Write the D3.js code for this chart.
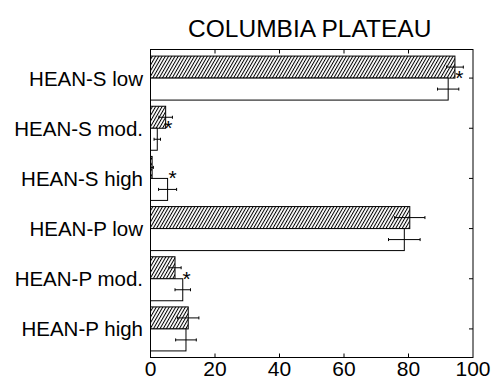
<!DOCTYPE html>
<html>
<head>
<meta charset="utf-8">
<script src="https://cdn.jsdelivr.net/npm/d3@7"></script>
<style>
  body { margin: 0; background: #fff; }
  text { font-family: "Liberation Sans", Arial, sans-serif; fill: #000; }
</style>
</head>
<body>
<div id="chart"></div>
<script>
// data
const categories = ["HEAN-S low", "HEAN-S mod.", "HEAN-S high", "HEAN-P low", "HEAN-P mod.", "HEAN-P high"];
const hatched    = [94.4, 4.7, 0.5, 80.4, 7.6, 11.7];
const hatchedErr = [2.6, 2.1, 0.4, 4.7, 1.9, 3.3];
const open       = [92.3, 2.1, 5.3, 78.7, 10.0, 11.0];
const openErr    = [3.3, 1.0, 2.8, 4.9, 2.4, 3.2];
const starred    = [true, true, true, false, true, false];
const xTicks     = [0, 20, 40, 60, 80, 100];

const W = 492, H = 381;
const plotL = 150.5, plotR = 473, plotT = 49.5, plotB = 357.5;

const svg = d3.select("#chart").append("svg")
  .attr("width", W).attr("height", H);

// hatch pattern
svg.append("defs").append("pattern")
  .attr("id", "hatch")
  .attr("patternUnits", "userSpaceOnUse")
  .attr("width", 2.8).attr("height", 6)
  .attr("patternTransform", "rotate(30)")
  .append("line")
  .attr("x1", 0.5).attr("y1", 0).attr("x2", 0.5).attr("y2", 6)
  .attr("stroke", "#000").attr("stroke-width", 1);

const x = d3.scaleLinear().domain([0, 100]).range([plotL, plotR]);
const y = d3.scaleBand().domain(categories).range([53, 354]);
const barH = 22;

// title
svg.append("text")
  .attr("x", (plotL + plotR) / 2 - 2).attr("y", 37)
  .attr("text-anchor", "middle")
  .style("font-size", "24.5px")
  .text("COLUMBIA PLATEAU");

const rows = categories.map((c, i) => ({
  c, h: hatched[i], he: hatchedErr[i], o: open[i], oe: openErr[i], star: starred[i]
}));
const mid = d => y(d.c) + y.bandwidth() / 2;

// bars
svg.selectAll(".hbar").data(rows).join("rect")
  .attr("x", x(0)).attr("y", d => mid(d) - barH)
  .attr("width", d => x(d.h) - x(0)).attr("height", barH)
  .attr("fill", "url(#hatch)").attr("stroke", "#000").attr("stroke-width", 1);

svg.selectAll(".obar").data(rows).join("rect")
  .attr("x", x(0)).attr("y", d => mid(d))
  .attr("width", d => x(d.o) - x(0)).attr("height", barH)
  .attr("fill", "#fff").attr("stroke", "#000").attr("stroke-width", 1);

// error bars
function errBars(key, errKey, off) {
  const g = svg.append("g").attr("stroke", "#000").attr("stroke-width", 1);
  rows.forEach(d => {
    const cy = mid(d) + off;
    const lo = x(d[key] - d[errKey]), hi = x(d[key] + d[errKey]);
    g.append("line").attr("x1", lo).attr("x2", hi).attr("y1", cy).attr("y2", cy);
    g.append("line").attr("x1", lo).attr("x2", lo).attr("y1", cy - 1.5).attr("y2", cy + 1.5);
    g.append("line").attr("x1", hi).attr("x2", hi).attr("y1", cy - 1.5).attr("y2", cy + 1.5);
  });
}
errBars("h", "he", -barH / 2);
errBars("o", "oe", barH / 2);

// asterisks
svg.selectAll(".star").data(rows.filter(d => d.star)).join("text")
  .attr("x", d => x(Math.max(d.h + d.he, d.o + d.oe)) - 4)
  .attr("y", d => mid(d) + 7)
  .attr("text-anchor", "middle")
  .style("font-size", "21px")
  .text("*");

// frame
svg.append("rect")
  .attr("x", plotL).attr("y", plotT)
  .attr("width", plotR - plotL).attr("height", plotB - plotT)
  .attr("fill", "none").attr("stroke", "#000").attr("stroke-width", 1);

// ticks inside the frame
const tk = svg.append("g").attr("stroke", "#000").attr("stroke-width", 1);
xTicks.slice(1, -1).forEach(t => {
  tk.append("line").attr("x1", x(t)).attr("x2", x(t)).attr("y1", plotB).attr("y2", plotB - 4);
  tk.append("line").attr("x1", x(t)).attr("x2", x(t)).attr("y1", plotT).attr("y2", plotT + 4);
});
rows.forEach(d => {
  tk.append("line").attr("x1", plotR).attr("x2", plotR - 4).attr("y1", mid(d)).attr("y2", mid(d));
});

// x tick labels
svg.selectAll(".xl").data(xTicks).join("text")
  .attr("x", d => x(d)).attr("y", 376)
  .attr("text-anchor", "middle")
  .style("font-size", "21px")
  .text(d => d);

// category labels
svg.selectAll(".cl").data(rows).join("text")
  .attr("x", 143).attr("y", d => mid(d) + 7.5)
  .attr("text-anchor", "end")
  .style("font-size", "20.5px")
  .text(d => d.c);
</script>
</body>
</html>
